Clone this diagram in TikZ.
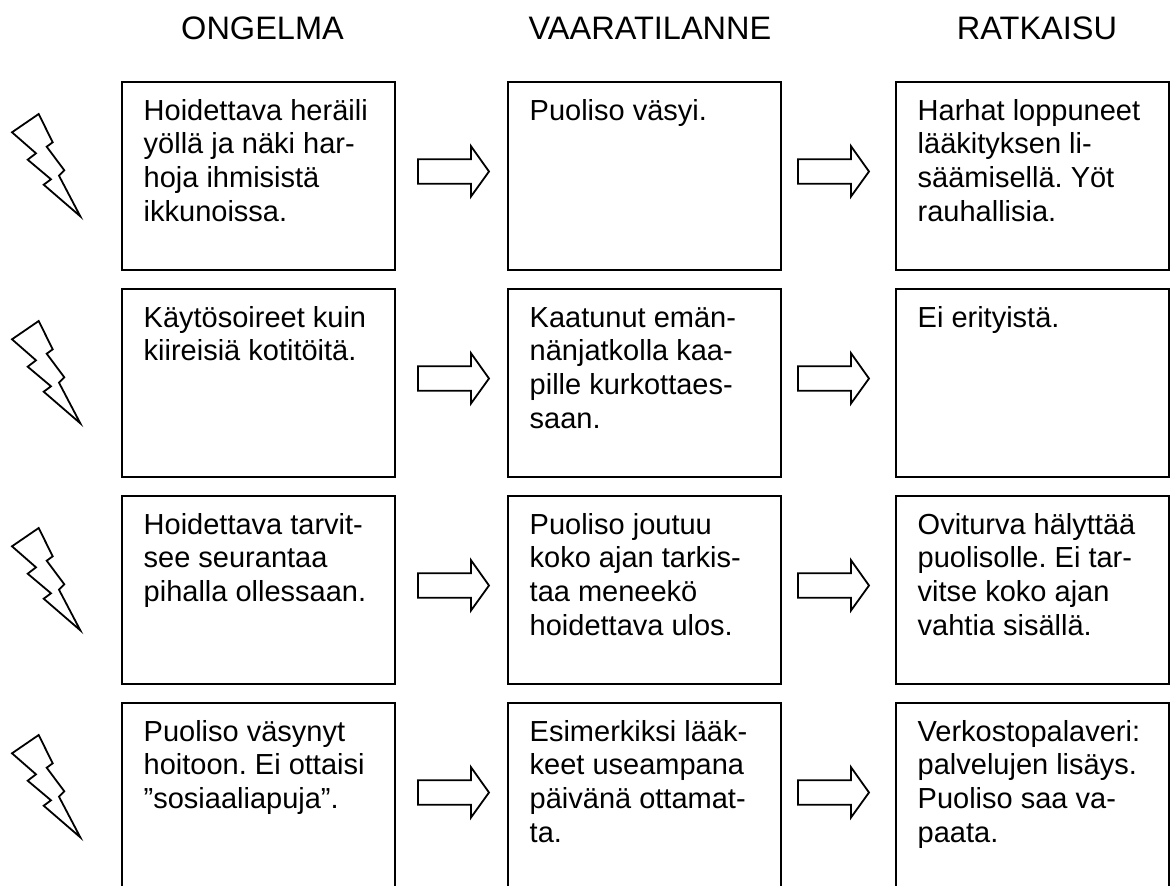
\documentclass[tikz,border=0pt]{standalone}
\usepackage{fontspec}
\setmainfont{Liberation Sans}
\frenchspacing
\newcommand{\cardlines}[1]{\begin{tabular}[t]{@{}l@{}}#1\end{tabular}}
\tikzset{
  x=1pt,y=-1pt,
  card/.style={draw=black,line width=2pt,outer sep=0pt,minimum width=272.5pt,minimum height=188pt,inner sep=0pt,anchor=north west},
  cardtext/.style={anchor=base west,inner sep=0pt,font=\fontsize{29}{33.9}\selectfont},
  head/.style={anchor=base,inner sep=0pt,font=\fontsize{32.5}{36}\selectfont},
  shapeline/.style={draw=black,line width=1.8pt,line join=miter}
}
\newcommand{\bolt}[1]{%
  \draw[shapeline,shift={(0,#1)}] (38.7,0) -- (12,18.3) -- (36,39.3) -- (27.7,45.7) -- (51,65.3) -- (43.7,70.7) -- (80.3,102.3) -- (59,61.7) -- (64.3,56.3) -- (46.7,32.7) -- (52.7,28.3) -- cycle;}
\newcommand{\bigarrow}[2]{%
  \draw[shapeline,shift={(#1,#2)}] (0,-12.3) -- (53,-12.3) -- (53,-25.3) -- (71,0) -- (53,25) -- (53,12.3) -- (0,12.3) -- cycle;}
\begin{document}
\begin{tikzpicture}
\useasboundingbox (0,0) rectangle (1170,886);
\node[head] (h1) at (262.5,39.5) {ONGELMA};
\node[head] (h2) at (650,39.5) {VAARATILANNE};
\node[head] (h3) at (1037,39.5) {RATKAISU};
% boxes
\node[card] (a1) at (122,82) {};
\node[card] (b1) at (508,82) {};
\node[card] (c1) at (896,82) {};
\node[card] (a2) at (122,289) {};
\node[card] (b2) at (508,289) {};
\node[card] (c2) at (896,289) {};
\node[card] (a3) at (122,496) {};
\node[card] (b3) at (508,496) {};
\node[card] (c3) at (896,496) {};
\begin{scope}
\clip (0,0) rectangle (1170,886);
\node[card,minimum height=210pt] (a4) at (122,703) {};
\node[card,minimum height=210pt] (b4) at (508,703) {};
\node[card,minimum height=210pt] (c4) at (896,703) {};
\end{scope}
% texts
\node[cardtext] (ta1) at (143.5,120) {\cardlines{Hoidettava heräili\\yöllä ja näki har-\\hoja ihmisistä\\ikkunoissa.}};
\node[cardtext] (tb1) at (529.5,120) {\cardlines{Puoliso väsyi.}};
\node[cardtext] (tc1) at (917.5,120) {\cardlines{Harhat loppuneet\\lääkityksen li-\\säämisellä. Yöt\\rauhallisia.}};
\node[cardtext] (ta2) at (143.5,327) {\cardlines{Käytösoireet kuin\\kiireisiä kotitöitä.}};
\node[cardtext] (tb2) at (529.5,327) {\cardlines{Kaatunut emän-\\nänjatkolla kaa-\\pille kurkottaes-\\saan.}};
\node[cardtext] (tc2) at (917.5,327) {\cardlines{Ei erityistä.}};
\node[cardtext] (ta3) at (143.5,534) {\cardlines{Hoidettava tarvit-\\see seurantaa\\pihalla ollessaan.}};
\node[cardtext] (tb3) at (529.5,534) {\cardlines{Puoliso joutuu\\koko ajan tarkis-\\taa meneekö\\hoidettava ulos.}};
\node[cardtext] (tc3) at (917.5,534) {\cardlines{Oviturva hälyttää\\puolisolle. Ei tar-\\vitse koko ajan\\vahtia sisällä.}};
\node[cardtext] (ta4) at (143.5,741) {\cardlines{Puoliso väsynyt\\hoitoon. Ei ottaisi\\”sosiaaliapuja”.}};
\node[cardtext] (tb4) at (529.5,741) {\cardlines{Esimerkiksi lääk-\\keet useampana\\päivänä ottamat-\\ta.}};
\node[cardtext] (tc4) at (917.5,741) {\cardlines{Verkostopalaveri:\\palvelujen lisäys.\\Puoliso saa va-\\paata.}};
% bolts
\bolt{114}\bolt{321}\bolt{528}\bolt{735}
% arrows
\bigarrow{418}{171.5}\bigarrow{798}{171.5}
\bigarrow{418}{378.5}\bigarrow{798}{378.5}
\bigarrow{418}{585.5}\bigarrow{798}{585.5}
\bigarrow{418}{792.5}\bigarrow{798}{792.5}
\end{tikzpicture}
\end{document}
